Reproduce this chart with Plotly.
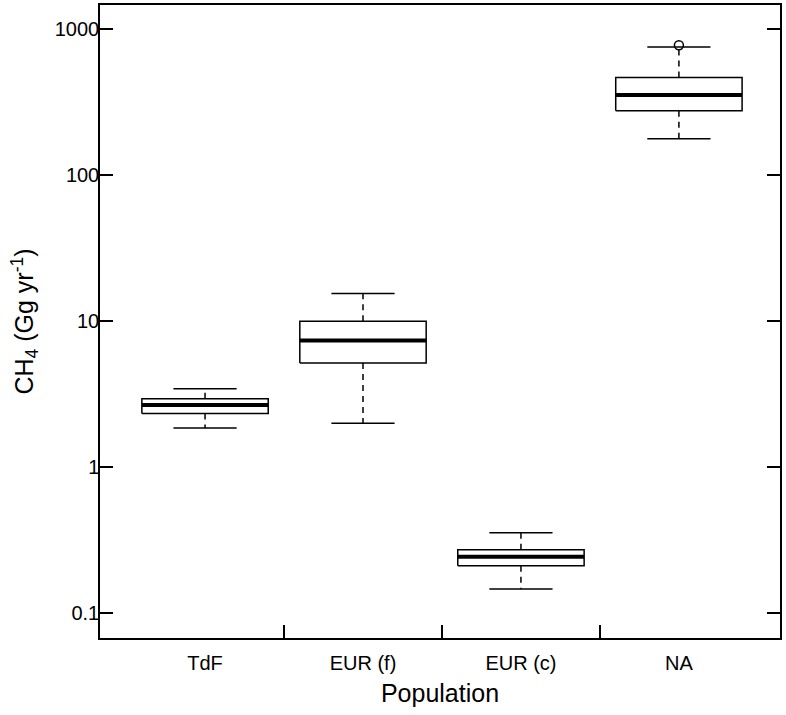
import plotly.graph_objects as go

# ---- data ----
populations = ["TdF", "EUR (f)", "EUR (c)", "NA"]
lower_whisker = [1.86, 2.0, 0.147, 177]
q1 = [2.34, 5.17, 0.212, 276]
median = [2.67, 7.38, 0.244, 353]
q3 = [2.95, 10.0, 0.273, 465]
upper_whisker = [3.45, 15.5, 0.356, 754]
outlier_pop = ["NA"]
outlier_val = [774]

y_tick_vals = [0.1, 1, 10, 100, 1000]
y_tick_text = ["0.1", "1", "10", "100", "1000"]

BOX_HALF = 0.4
CAP_HALF = 0.2
FONT = "Liberation Sans, Arial, Helvetica, sans-serif"

xpos = list(range(1, len(populations) + 1))

box_x, box_y = [], []
med_x, med_y = [], []
wh_x, wh_y = [], []
cap_x, cap_y = [], []
for c, lo, a, m, b, hi in zip(xpos, lower_whisker, q1, median, q3, upper_whisker):
    box_x += [c - BOX_HALF, c + BOX_HALF, c + BOX_HALF, c - BOX_HALF, c - BOX_HALF, None]
    box_y += [a, a, b, b, a, None]
    med_x += [c - BOX_HALF, c + BOX_HALF, None]
    med_y += [m, m, None]
    wh_x += [c, c, None, c, c, None]
    wh_y += [b, hi, None, a, lo, None]
    cap_x += [c - CAP_HALF, c + CAP_HALF, None, c - CAP_HALF, c + CAP_HALF, None]
    cap_y += [hi, hi, None, lo, lo, None]

out_x = [xpos[populations.index(p)] for p in outlier_pop]

fig = go.Figure()
fig.add_trace(go.Scatter(x=wh_x, y=wh_y, mode="lines",
                         line=dict(color="black", width=1.5, dash="6px,5px"),
                         hoverinfo="skip"))
fig.add_trace(go.Scatter(x=cap_x, y=cap_y, mode="lines",
                         line=dict(color="black", width=1.5), hoverinfo="skip"))
fig.add_trace(go.Scatter(x=box_x, y=box_y, mode="lines",
                         line=dict(color="black", width=1.5), hoverinfo="skip"))
fig.add_trace(go.Scatter(x=med_x, y=med_y, mode="lines",
                         line=dict(color="black", width=4), hoverinfo="skip"))
fig.add_trace(go.Scatter(x=out_x, y=outlier_val, mode="markers",
                         marker=dict(symbol="circle-open", size=9, color="black",
                                     line=dict(width=1.5)),
                         hoverinfo="skip"))

fig.update_layout(
    width=786, height=715,
    margin=dict(l=100, r=6, t=3, b=77),
    paper_bgcolor="white", plot_bgcolor="white",
    showlegend=False,
    font=dict(family=FONT, color="black"),
)

fig.update_xaxes(
    range=[0.335, 4.64],
    tickmode="array", tickvals=xpos, ticktext=populations,
    ticks="", showgrid=False, zeroline=False,
    showline=True, linecolor="black", linewidth=1.5, mirror=True,
    tickfont=dict(size=20, family=FONT, color="black"),
    ticklabelstandoff=6,
    minor=dict(tickmode="array", tickvals=[1.5, 2.5, 3.5], ticks="inside",
               ticklen=13, tickwidth=1.5, tickcolor="black", showgrid=False),
    title=dict(text="Population", font=dict(size=25, family=FONT, color="black"),
               standoff=12),
)

fig.update_yaxes(
    type="log", range=[-1.168, 3.164],
    tickmode="array", tickvals=y_tick_vals, ticktext=y_tick_text,
    ticks="inside", ticklen=13, tickwidth=1.5, tickcolor="black",
    showgrid=False, zeroline=False,
    showline=True, linecolor="black", linewidth=1.5, mirror="ticks",
    tickfont=dict(size=20, family=FONT, color="black"),
    ticklabelstandoff=-5,
    title=dict(text="CH<sub>4</sub> (Gg yr<sup>-1</sup>)",
               font=dict(size=25, family=FONT, color="black"), standoff=14),
)

fig.write_html("out.html", config={"displayModeBar": False},
               post_script="document.body.style.margin='0px';")
